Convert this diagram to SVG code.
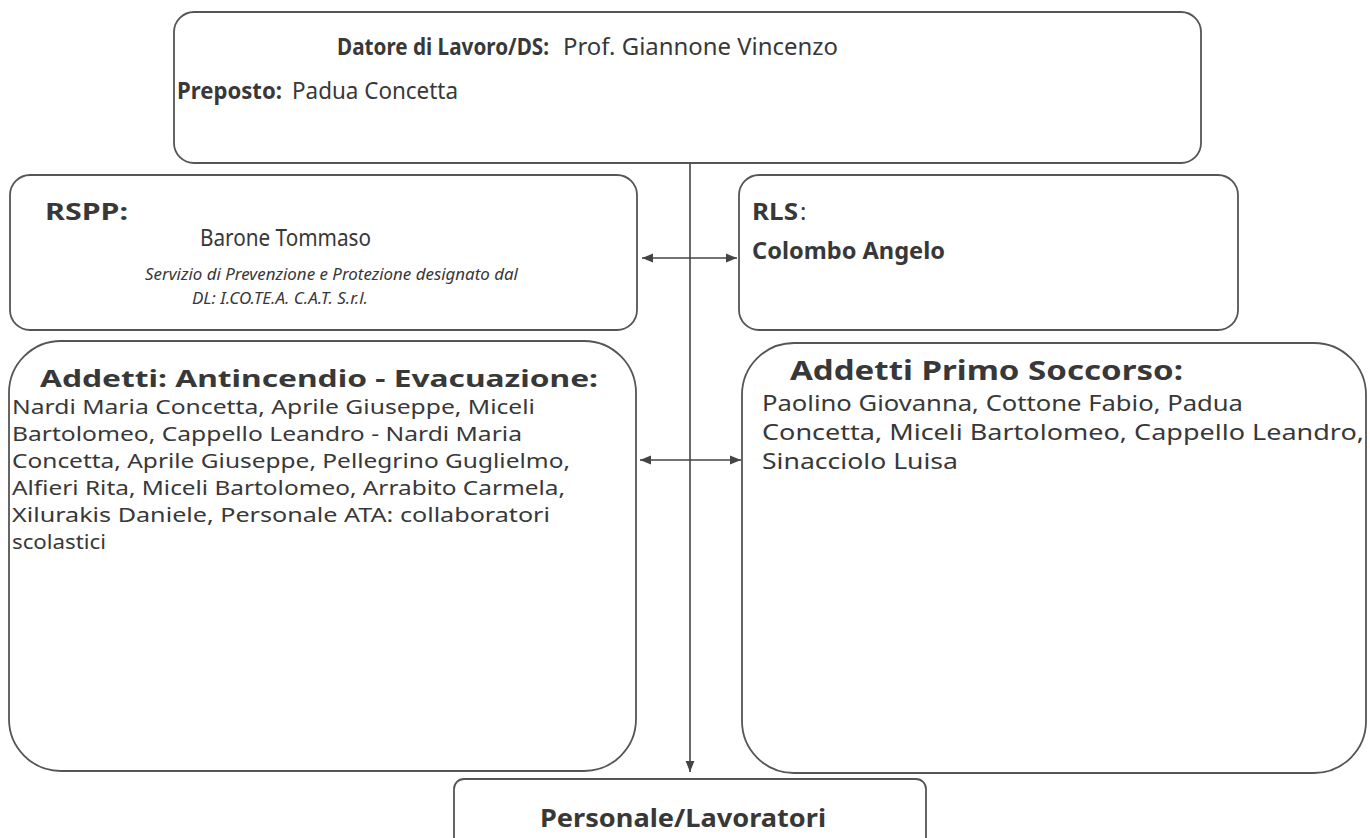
<svg xmlns="http://www.w3.org/2000/svg" width="1370" height="838" viewBox="0 0 1370 838">
<style>
.box{fill:#fff;stroke:#555;stroke-width:1.8}
.t{font-family:"Noto Sans","DejaVu Sans","Liberation Sans",sans-serif;fill:#383838}
.b{font-weight:bold}
.i{font-style:italic}
.c{stroke:#444;stroke-width:1.6;fill:none}
</style>
<defs>
<marker id="ah" viewBox="0 0 10 10" refX="10" refY="5" markerWidth="11" markerHeight="11" markerUnits="userSpaceOnUse" orient="auto-start-reverse">
<path d="M0,1 L10,5 L0,9 Z" fill="#444"/>
</marker>
</defs>
<rect width="1370" height="838" fill="#fff"/>

<g id="connectors">
<line class="c" x1="690" y1="163" x2="690" y2="772" marker-end="url(#ah)"/>
<line class="c" x1="642" y1="258" x2="737" y2="258" marker-start="url(#ah)" marker-end="url(#ah)"/>
<line class="c" x1="640" y1="460" x2="741" y2="460" marker-start="url(#ah)" marker-end="url(#ah)"/>
</g>

<g id="datore">
<rect class="box" x="174" y="12" width="1027" height="151" rx="20"/>
<text class="t b" x="337" y="55" font-size="24" textLength="212" lengthAdjust="spacingAndGlyphs">Datore di Lavoro/DS:</text>
<text class="t" x="563" y="55" font-size="24" textLength="275" lengthAdjust="spacingAndGlyphs">Prof. Giannone Vincenzo</text>
<text class="t b" x="177" y="99" font-size="24" textLength="105" lengthAdjust="spacingAndGlyphs">Preposto:</text>
<text class="t" x="292" y="99" font-size="24" textLength="166" lengthAdjust="spacingAndGlyphs">Padua Concetta</text>
</g>

<g id="rspp">
<rect class="box" x="10" y="175" width="627" height="155" rx="20"/>
<text class="t b" x="45" y="220" font-size="24" textLength="83" lengthAdjust="spacingAndGlyphs">RSPP:</text>
<text class="t" x="200" y="246" font-size="24" textLength="171" lengthAdjust="spacingAndGlyphs">Barone Tommaso</text>
<text class="t i" x="145" y="280" font-size="17" textLength="373" lengthAdjust="spacingAndGlyphs">Servizio di Prevenzione e Protezione designato dal</text>
<text class="t i" x="192" y="304" font-size="17" textLength="176" lengthAdjust="spacingAndGlyphs">DL: I.CO.TE.A. C.A.T. S.r.l.</text>
</g>

<g id="rls">
<rect class="box" x="739" y="175" width="499" height="155" rx="20"/>
<text class="t b" x="752" y="220" font-size="24" textLength="46" lengthAdjust="spacingAndGlyphs">RLS</text>
<text class="t" x="800" y="220" font-size="24">:</text>
<text class="t b" x="752" y="259" font-size="24" textLength="193" lengthAdjust="spacingAndGlyphs">Colombo Angelo</text>
</g>

<g id="antincendio">
<rect class="box" x="9" y="341" width="627" height="430" rx="52"/>
<text class="t b" x="40" y="387" font-size="24" textLength="558" lengthAdjust="spacingAndGlyphs">Addetti: Antincendio - Evacuazione:</text>
<g class="t" font-size="19">
<text x="12" y="414" textLength="523" lengthAdjust="spacingAndGlyphs">Nardi Maria Concetta, Aprile Giuseppe, Miceli</text>
<text x="12" y="441" textLength="510" lengthAdjust="spacingAndGlyphs">Bartolomeo, Cappello Leandro - Nardi Maria</text>
<text x="12" y="468" textLength="558" lengthAdjust="spacingAndGlyphs">Concetta, Aprile Giuseppe, Pellegrino Guglielmo,</text>
<text x="12" y="495" textLength="553" lengthAdjust="spacingAndGlyphs">Alfieri Rita, Miceli Bartolomeo, Arrabito Carmela,</text>
<text x="12" y="522" textLength="538" lengthAdjust="spacingAndGlyphs">Xilurakis Daniele, Personale ATA: collaboratori</text>
<text x="12" y="549" textLength="94" lengthAdjust="spacingAndGlyphs">scolastici</text>
</g>
</g>

<g id="primo-soccorso">
<rect class="box" x="742" y="343" width="624" height="430" rx="52"/>
<text class="t b" x="790" y="380" font-size="26" textLength="393" lengthAdjust="spacingAndGlyphs">Addetti Primo Soccorso:</text>
<g class="t" font-size="22">
<text x="762" y="411" textLength="481" lengthAdjust="spacingAndGlyphs">Paolino Giovanna, Cottone Fabio, Padua</text>
<text x="762" y="440" textLength="602" lengthAdjust="spacingAndGlyphs">Concetta, Miceli Bartolomeo, Cappello Leandro,</text>
<text x="762" y="469" textLength="196" lengthAdjust="spacingAndGlyphs">Sinacciolo Luisa</text>
</g>
</g>

<g id="personale">
<rect class="box" x="454" y="779" width="472" height="80" rx="10"/>
<text class="t b" x="540" y="827" font-size="25" textLength="286" lengthAdjust="spacingAndGlyphs">Personale/Lavoratori</text>
</g>
</svg>
